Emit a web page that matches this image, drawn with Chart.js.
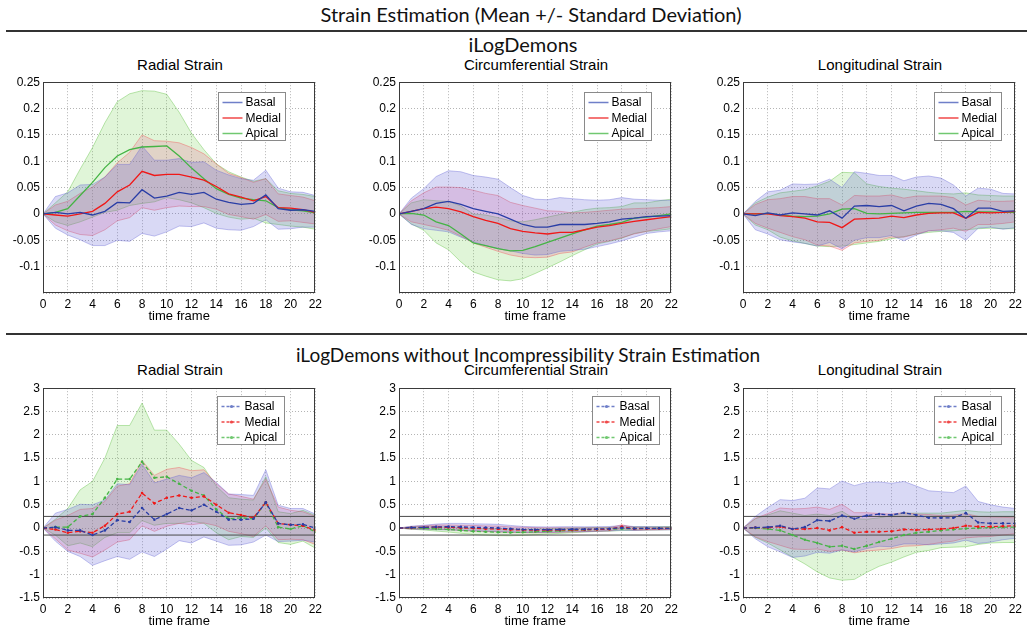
<!DOCTYPE html>
<html><head><meta charset="utf-8">
<script src="https://cdn.jsdelivr.net/npm/chart.js@4.4.0/dist/chart.umd.min.js"></script>
<style>
html,body{margin:0;padding:0;background:#fff;width:1027px;height:628px;overflow:hidden;position:relative;font-family:"Liberation Sans",Arial,sans-serif;}
.hdr{position:absolute;font-family:Lato,"Open Sans",sans-serif;font-size:20px;white-space:nowrap;color:#111;line-height:1;transform:translateX(-50%);}
.rule{position:absolute;height:2px;background:#333;}
.ptitle{position:absolute;font-size:15px;white-space:nowrap;transform:translateX(-50%);line-height:1;color:#000;}
.box{position:absolute;}
</style></head>
<body>
<div class="hdr" style="left:531px;top:4px">Strain Estimation (Mean +/- Standard Deviation)</div>
<div class="rule" style="left:6px;right:0;top:30px"></div>
<div class="hdr" style="left:523px;top:34px">iLogDemons</div>
<div class="rule" style="left:6px;right:0;top:333px"></div>
<div class="hdr" style="left:528px;top:345px;font-size:19px">iLogDemons without Incompressibility Strain Estimation</div>

<div class="ptitle" style="left:180px;top:57px">Radial Strain</div>
<div class="ptitle" style="left:536px;top:57px">Circumferential Strain</div>
<div class="ptitle" style="left:880px;top:57px">Longitudinal Strain</div>
<div class="ptitle" style="left:180px;top:362px">Radial Strain</div>
<div class="ptitle" style="left:536px;top:362px">Circumferential Strain</div>
<div class="ptitle" style="left:880px;top:362px">Longitudinal Strain</div>

<div class="box" style="left:0px;top:72px;width:326px;height:261px"><canvas id="c1" width="326" height="261"></canvas></div>
<div class="box" style="left:356px;top:72px;width:326px;height:261px"><canvas id="c2" width="326" height="261"></canvas></div>
<div class="box" style="left:700px;top:72px;width:326px;height:261px"><canvas id="c3" width="326" height="261"></canvas></div>
<div class="box" style="left:0px;top:378px;width:326px;height:260px"><canvas id="c4" width="326" height="260"></canvas></div>
<div class="box" style="left:356px;top:378px;width:326px;height:260px"><canvas id="c5" width="326" height="260"></canvas></div>
<div class="box" style="left:700px;top:378px;width:326px;height:260px"><canvas id="c6" width="326" height="260"></canvas></div>

<script>
// ---------- data ----------
const FRAMES = [0,1,2,3,4,5,6,7,8,9,10,11,12,13,14,15,16,17,18,19,20,21,22];
const SERIES = ['Basal','Medial','Apical'];
const X_TICKS = [0,2,4,6,8,10,12,14,16,18,20,22];
const Y_TICKS_TOP = [0.25,0.2,0.15,0.1,0.05,0,-0.05,-0.1,-0.15];
const Y_LABELS_TOP = ['0.25','0.2','0.15','0.1','0.05','0','-0.05','-0.1',''];
const Y_TICKS_BOT = [3,2.5,2,1.5,1,0.5,0,-0.5,-1,-1.5];
const Y_LABELS_BOT = ['3','2.5','2','1.5','1','0.5','0','-0.5','-1','-1.5'];
const REF_LEVELS = [0.25,-0.15];

// iLogDemons - Radial
const TOP_RAD_BASAL_MEAN  = [0,0.003,0,0.003,-0.002,0.005,0.022,0.021,0.046,0.030,0.034,0.041,0.037,0.041,0.028,0.022,0.018,0.020,0.036,0.010,0.007,0.008,0.005];
const TOP_RAD_BASAL_STD   = [0,0.030,0.040,0.052,0.058,0.065,0.072,0.073,0.083,0.072,0.068,0.064,0.061,0.058,0.055,0.052,0.049,0.044,0.047,0.039,0.035,0.033,0.030];
const TOP_RAD_MEDIAL_MEAN = [0,-0.002,-0.004,0,0.005,0.020,0.042,0.055,0.081,0.073,0.075,0.075,0.070,0.064,0.052,0.038,0.032,0.025,0.033,0.012,0.011,0.008,0.003];
const TOP_RAD_MEDIAL_STD  = [0,0.019,0.028,0.039,0.046,0.050,0.055,0.062,0.069,0.066,0.063,0.060,0.056,0.050,0.043,0.039,0.037,0.035,0.034,0.026,0.024,0.024,0.022];
const TOP_RAD_APICAL_MEAN = [0,0.003,0.010,0.035,0.060,0.088,0.110,0.122,0.127,0.128,0.129,0.110,0.087,0.067,0.048,0.037,0.030,0.027,0.025,0.012,0.008,0.006,0.002];
const TOP_RAD_APICAL_STD  = [0,0.018,0.032,0.050,0.066,0.085,0.103,0.106,0.107,0.105,0.098,0.083,0.066,0.055,0.047,0.043,0.040,0.035,0.042,0.032,0.031,0.031,0.031];
// iLogDemons - Circumferential
const TOP_CIR_BASAL_MEAN  = [0,0.005,0.010,0.020,0.024,0.018,0.010,0.005,0,-0.010,-0.020,-0.025,-0.025,-0.020,-0.020,-0.020,-0.018,-0.015,-0.010,-0.008,-0.005,-0.004,-0.003];
const TOP_CIR_BASAL_STD   = [0,0.025,0.038,0.051,0.058,0.062,0.063,0.065,0.066,0.060,0.055,0.053,0.052,0.051,0.049,0.047,0.044,0.042,0.041,0.036,0.032,0.030,0.029];
const TOP_CIR_MEDIAL_MEAN = [0,0.005,0.010,0.013,0.010,0.004,-0.005,-0.012,-0.018,-0.028,-0.033,-0.036,-0.038,-0.035,-0.035,-0.030,-0.025,-0.022,-0.018,-0.014,-0.011,-0.008,-0.005];
const TOP_CIR_MEDIAL_STD  = [0,0.020,0.030,0.038,0.041,0.046,0.050,0.051,0.053,0.050,0.049,0.047,0.044,0.040,0.037,0.033,0.030,0.029,0.027,0.024,0.022,0.020,0.019];
const TOP_CIR_APICAL_MEAN = [0,0.001,-0.002,-0.015,-0.022,-0.038,-0.055,-0.060,-0.066,-0.070,-0.069,-0.062,-0.054,-0.046,-0.038,-0.030,-0.023,-0.020,-0.016,-0.008,-0.006,-0.003,0];
const TOP_CIR_APICAL_STD  = [0,0.020,0.029,0.040,0.046,0.053,0.055,0.058,0.059,0.057,0.054,0.051,0.048,0.045,0.041,0.038,0.034,0.032,0.030,0.029,0.027,0.028,0.028];
// iLogDemons - Longitudinal
const TOP_LON_BASAL_MEAN  = [0,-0.003,0.002,-0.002,0.002,0,-0.002,0.006,-0.008,0.015,0.016,0.014,0.016,0.006,0.015,0.020,0.018,0.010,-0.008,0.011,0.011,0.005,0.006];
const TOP_LON_BASAL_STD   = [0,0.027,0.040,0.047,0.055,0.056,0.059,0.060,0.058,0.065,0.061,0.059,0.057,0.057,0.055,0.052,0.050,0.045,0.042,0.038,0.036,0.034,0.032];
const TOP_LON_MEDIAL_MEAN = [0,0,0,-0.003,-0.005,-0.008,-0.015,-0.016,-0.026,-0.010,-0.009,-0.008,-0.004,-0.007,-0.002,0.001,0.002,0.002,-0.008,0.003,0.002,0.003,0.005];
const TOP_LON_MEDIAL_STD  = [0,0.018,0.027,0.032,0.038,0.041,0.044,0.045,0.043,0.045,0.043,0.042,0.040,0.037,0.036,0.033,0.032,0.029,0.025,0.023,0.022,0.021,0.020];
const TOP_LON_APICAL_MEAN = [0,0,0.001,-0.002,-0.004,-0.005,-0.004,0,0.009,0.010,0.001,0,0.001,0.002,0.003,0.003,0.003,0.003,0.005,0.004,0.004,0.003,0.003];
const TOP_LON_APICAL_STD  = [0,0.021,0.031,0.042,0.047,0.051,0.057,0.062,0.070,0.068,0.056,0.052,0.048,0.045,0.041,0.038,0.036,0.035,0.035,0.032,0.031,0.031,0.031];
// without incompressibility - Radial
const BOT_RAD_BASAL_MEAN  = [0,0.02,-0.05,-0.05,-0.15,-0.05,0.17,0.13,0.43,0.18,0.30,0.43,0.38,0.50,0.35,0.18,0.18,0.20,0.55,0.10,0.07,0.08,0];
const BOT_RAD_BASAL_STD   = [0,0.30,0.45,0.56,0.65,0.65,0.78,0.80,0.94,0.79,0.75,0.70,0.70,0.69,0.63,0.55,0.54,0.50,0.70,0.39,0.35,0.34,0.30];
const BOT_RAD_MEDIAL_MEAN = [0,-0.03,-0.10,-0.07,-0.10,0.05,0.30,0.35,0.75,0.53,0.65,0.70,0.65,0.68,0.50,0.33,0.28,0.22,0.55,0.10,0.07,0.05,-0.05];
const BOT_RAD_MEDIAL_STD  = [0,0.20,0.37,0.47,0.52,0.52,0.60,0.60,0.70,0.60,0.61,0.60,0.58,0.57,0.45,0.40,0.40,0.40,0.50,0.35,0.31,0.30,0.30];
const BOT_RAD_APICAL_MEAN = [0,0.02,0.02,0.25,0.30,0.65,1.05,1.05,1.42,1.08,1.10,0.95,0.80,0.70,0.40,0.20,0.22,0.20,0.55,0.02,-0.02,0.05,-0.08];
const BOT_RAD_APICAL_STD  = [0,0.17,0.40,0.57,0.70,0.85,1.15,1.15,1.26,1.02,1.00,0.85,0.65,0.60,0.50,0.45,0.40,0.40,0.55,0.33,0.33,0.33,0.35];
// without incompressibility - Circumferential
const BOT_CIR_BASAL_MEAN  = [0,0.010,0.015,0.025,0.030,0.025,0.015,0.010,0,-0.015,-0.030,-0.035,-0.035,-0.030,-0.025,-0.025,-0.020,-0.015,0.005,-0.010,-0.005,-0.005,-0.005];
const BOT_CIR_BASAL_STD   = [0,0.030,0.045,0.060,0.070,0.075,0.075,0.078,0.080,0.072,0.065,0.062,0.060,0.058,0.055,0.052,0.050,0.048,0.050,0.042,0.038,0.035,0.033];
const BOT_CIR_MEDIAL_MEAN = [0,0.005,0.015,0.020,0.015,0.005,-0.005,-0.015,-0.020,-0.035,-0.040,-0.045,-0.045,-0.040,-0.040,-0.035,-0.030,-0.025,0.030,-0.015,-0.012,-0.010,-0.008];
const BOT_CIR_MEDIAL_STD  = [0,0.025,0.035,0.045,0.050,0.055,0.060,0.060,0.062,0.060,0.058,0.055,0.052,0.048,0.044,0.040,0.036,0.034,0.040,0.030,0.027,0.025,0.023];
const BOT_CIR_APICAL_MEAN = [0,0,-0.005,-0.020,-0.030,-0.050,-0.070,-0.080,-0.090,-0.095,-0.090,-0.080,-0.070,-0.060,-0.050,-0.040,-0.030,-0.025,-0.015,-0.010,-0.008,-0.005,0];
const BOT_CIR_APICAL_STD  = [0,0.025,0.035,0.045,0.055,0.062,0.066,0.070,0.072,0.070,0.066,0.062,0.058,0.054,0.050,0.046,0.042,0.040,0.038,0.036,0.034,0.034,0.034];
// without incompressibility - Longitudinal
const BOT_LON_BASAL_MEAN  = [0,0.01,0.02,0.05,-0.02,0.02,0.17,0.15,0.27,0.20,0.27,0.30,0.28,0.33,0.28,0.22,0.22,0.22,0.32,0.12,0.10,0.10,0.10];
const BOT_LON_BASAL_STD   = [0,0.24,0.42,0.56,0.61,0.62,0.69,0.69,0.74,0.71,0.71,0.69,0.68,0.67,0.62,0.58,0.56,0.54,0.58,0.45,0.40,0.35,0.32];
const BOT_LON_MEDIAL_MEAN = [0,0.01,0.01,0.03,-0.02,-0.02,0,-0.05,0.02,-0.10,-0.08,-0.08,-0.07,-0.03,-0.04,-0.03,-0.02,0,0.05,0.03,0.03,0.04,0.05];
const BOT_LON_MEDIAL_STD  = [0,0.20,0.30,0.40,0.43,0.44,0.45,0.45,0.49,0.43,0.41,0.39,0.37,0.36,0.34,0.32,0.29,0.28,0.26,0.22,0.21,0.19,0.17];
const BOT_LON_APICAL_MEAN = [0,0,-0.02,-0.05,-0.15,-0.25,-0.32,-0.40,-0.38,-0.45,-0.38,-0.30,-0.23,-0.15,-0.10,-0.08,-0.05,-0.03,-0.01,0,0.01,0.02,0.02];
const BOT_LON_APICAL_STD  = [0,0.20,0.30,0.42,0.47,0.52,0.62,0.67,0.74,0.65,0.57,0.52,0.50,0.47,0.42,0.40,0.37,0.38,0.39,0.35,0.33,0.33,0.33];

// ---------- styles ----------
const LINE_COLORS = ['#2a3ea6','#f01818','#45b445'];
const LEGEND_COLORS = ['#6f7fc8','#f04848','#70c870'];
const FILL_COLORS = ['rgba(80,80,210,0.22)','rgba(230,40,110,0.16)','rgba(90,200,50,0.19)'];
const EDGE_COLORS = ['rgba(90,90,210,0.45)','rgba(240,80,80,0.5)','rgba(90,190,60,0.5)'];
const FONT = '"Liberation Sans", Arial, sans-serif';

const framePlugin = {
  id: 'frameBox',
  afterDatasetsDraw(chart) {
    const a = chart.chartArea, ctx = chart.ctx;
    ctx.save();
    ctx.strokeStyle = '#3a3a3a';
    ctx.lineWidth = 1;
    ctx.strokeRect(Math.round(a.left) + 0.5, Math.round(a.top) + 0.5, Math.round(a.right - a.left) - 1, Math.round(a.bottom - a.top) - 1);
    ctx.restore();
  }
};

const insideLegend = {
  id: 'insideLegend',
  afterDraw(chart, args, opts) {
    const a = chart.chartArea, ctx = chart.ctx;
    ctx.save();
    ctx.font = '12px ' + FONT;
    const maxW = Math.max(...SERIES.map(s => ctx.measureText(s).width));
    const w = Math.round(27 + maxW + 5), h = 48;
    const x = Math.round(a.right - opts.right - w) + 0.5, y = Math.round(a.top + opts.top) + 0.5;
    ctx.fillStyle = '#fff';
    ctx.fillRect(x, y, w, h);
    ctx.strokeStyle = '#8a8a8a';
    ctx.lineWidth = 1;
    ctx.strokeRect(x, y, w, h);
    SERIES.forEach((s, i) => {
      const cy = y + 10 + i * 15.5;
      ctx.strokeStyle = LEGEND_COLORS[i];
      ctx.lineWidth = 1.5;
      ctx.setLineDash(opts.dashed ? [3, 2] : []);
      ctx.beginPath(); ctx.moveTo(x + 4, cy); ctx.lineTo(x + 24, cy); ctx.stroke();
      ctx.setLineDash([]);
      if (opts.dashed) {
        ctx.fillStyle = LEGEND_COLORS[i];
        ctx.beginPath(); ctx.arc(x + 14, cy, 1.6, 0, Math.PI * 2); ctx.fill();
      }
      ctx.fillStyle = '#000';
      ctx.textBaseline = 'middle';
      ctx.fillText(s, x + 27, cy + 0.5);
    });
    ctx.restore();
  }
};

function pts(arr) { return FRAMES.map((f, i) => ({ x: f, y: arr[i] })); }

function makePanel(id, groups, yTicks, yLabels, dashed, legendOpts, withRef) {
  const datasets = [];
  groups.forEach((g, k) => {
    const up = FRAMES.map((f, i) => ({ x: f, y: g.mean[i] + g.std[i] }));
    const lo = FRAMES.map((f, i) => ({ x: f, y: g.mean[i] - g.std[i] }));
    datasets.push({ data: up, borderColor: EDGE_COLORS[k], borderWidth: 0.8, backgroundColor: FILL_COLORS[k], fill: '+1', pointRadius: 0, order: 3 });
    datasets.push({ data: lo, borderColor: EDGE_COLORS[k], borderWidth: 0.8, fill: false, pointRadius: 0, order: 3 });
  });
  if (withRef) {
    REF_LEVELS.forEach(lv => {
      datasets.push({ data: [{ x: X_TICKS[0], y: lv }, { x: X_TICKS[X_TICKS.length - 1], y: lv }], borderColor: '#4a4a4a', borderWidth: 1, pointRadius: 0, fill: false, order: 2 });
    });
  }
  groups.forEach((g, k) => {
    datasets.push({
      label: SERIES[k], data: pts(g.mean), borderColor: LINE_COLORS[k], backgroundColor: LINE_COLORS[k],
      borderWidth: 1.3, borderDash: dashed ? [4, 2.5] : [], pointRadius: dashed ? 1.3 : 0, pointBorderWidth: 0,
      fill: false, order: 1
    });
  });
  const yMin = Math.min(...yTicks), yMax = Math.max(...yTicks);
  return new Chart(document.getElementById(id), {
    type: 'line',
    data: { datasets },
    options: {
      responsive: false, animation: false, devicePixelRatio: 1,
      layout: { padding: { top: 8, right: 8, left: 0, bottom: 0 } },
      plugins: { legend: { display: false }, tooltip: { enabled: false }, insideLegend: legendOpts },
      scales: {
        x: {
          type: 'linear', min: X_TICKS[0], max: X_TICKS[X_TICKS.length - 1],
          afterBuildTicks: s => { s.ticks = X_TICKS.map(v => ({ value: v })); },
          afterFit: s => { s.height = 40; },
          grid: { color: '#b4b4b4', lineWidth: 1, drawTicks: false },
          border: { display: false, dash: [1, 2] },
          ticks: { color: '#000', font: { family: FONT, size: 12 }, padding: 4, maxRotation: 0, autoSkip: false, callback: v => String(v) },
          title: { display: true, text: 'time frame', color: '#000', font: { family: FONT, size: 13 }, padding: { top: 0, bottom: 9 } }
        },
        y: {
          type: 'linear', min: yMin, max: yMax,
          afterBuildTicks: s => { s.ticks = yTicks.map(v => ({ value: v })); },
          afterFit: s => { s.width = 43; },
          grid: { color: '#b4b4b4', lineWidth: 1, drawTicks: false },
          border: { display: false, dash: [1, 2] },
          ticks: { color: '#000', font: { family: FONT, size: 12 }, padding: 3, autoSkip: false,
            callback: v => { const i = yTicks.findIndex(t => Math.abs(t - v) < 1e-9); return i >= 0 ? yLabels[i] : ''; } }
        }
      }
    },
    plugins: [framePlugin, insideLegend]
  });
}

makePanel('c1', [
  { mean: TOP_RAD_BASAL_MEAN, std: TOP_RAD_BASAL_STD },
  { mean: TOP_RAD_MEDIAL_MEAN, std: TOP_RAD_MEDIAL_STD },
  { mean: TOP_RAD_APICAL_MEAN, std: TOP_RAD_APICAL_STD }], Y_TICKS_TOP, Y_LABELS_TOP, false, { right: 30, top: 10, dashed: false }, false);
makePanel('c2', [
  { mean: TOP_CIR_BASAL_MEAN, std: TOP_CIR_BASAL_STD },
  { mean: TOP_CIR_MEDIAL_MEAN, std: TOP_CIR_MEDIAL_STD },
  { mean: TOP_CIR_APICAL_MEAN, std: TOP_CIR_APICAL_STD }], Y_TICKS_TOP, Y_LABELS_TOP, false, { right: 20, top: 10, dashed: false }, false);
makePanel('c3', [
  { mean: TOP_LON_BASAL_MEAN, std: TOP_LON_BASAL_STD },
  { mean: TOP_LON_MEDIAL_MEAN, std: TOP_LON_MEDIAL_STD },
  { mean: TOP_LON_APICAL_MEAN, std: TOP_LON_APICAL_STD }], Y_TICKS_TOP, Y_LABELS_TOP, false, { right: 14, top: 10, dashed: false }, false);
makePanel('c4', [
  { mean: BOT_RAD_BASAL_MEAN, std: BOT_RAD_BASAL_STD },
  { mean: BOT_RAD_MEDIAL_MEAN, std: BOT_RAD_MEDIAL_STD },
  { mean: BOT_RAD_APICAL_MEAN, std: BOT_RAD_APICAL_STD }], Y_TICKS_BOT, Y_LABELS_BOT, true, { right: 31, top: 8, dashed: true }, true);
makePanel('c5', [
  { mean: BOT_CIR_BASAL_MEAN, std: BOT_CIR_BASAL_STD },
  { mean: BOT_CIR_MEDIAL_MEAN, std: BOT_CIR_MEDIAL_STD },
  { mean: BOT_CIR_APICAL_MEAN, std: BOT_CIR_APICAL_STD }], Y_TICKS_BOT, Y_LABELS_BOT, true, { right: 12, top: 8, dashed: true }, true);
makePanel('c6', [
  { mean: BOT_LON_BASAL_MEAN, std: BOT_LON_BASAL_STD },
  { mean: BOT_LON_MEDIAL_MEAN, std: BOT_LON_MEDIAL_STD },
  { mean: BOT_LON_APICAL_MEAN, std: BOT_LON_APICAL_STD }], Y_TICKS_BOT, Y_LABELS_BOT, true, { right: 14, top: 8, dashed: true }, true);
</script>
</body></html>
